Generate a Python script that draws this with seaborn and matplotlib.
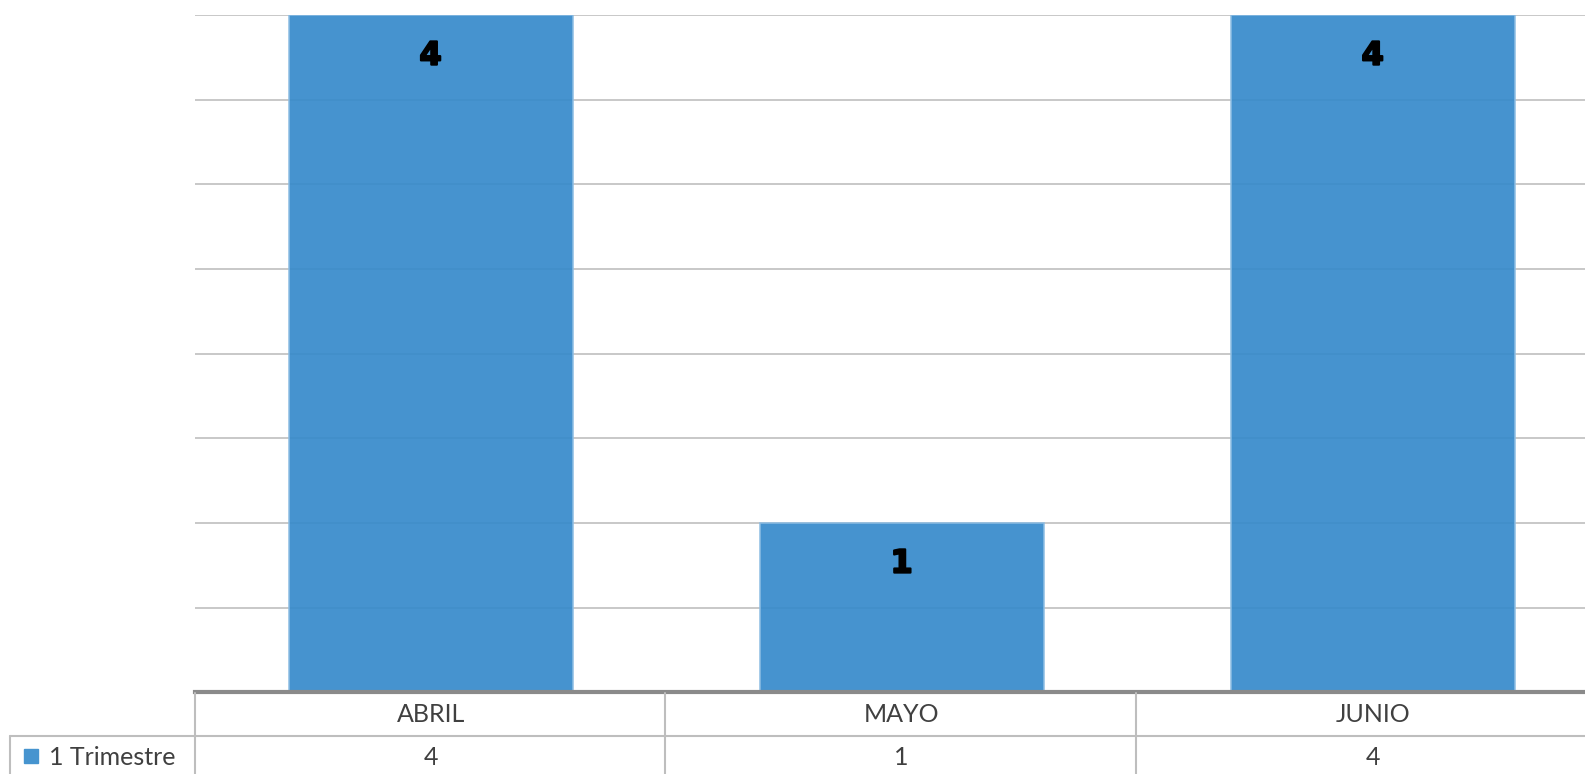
import matplotlib
matplotlib.use("Agg")
import matplotlib.pyplot as plt
import matplotlib.transforms as mtransforms
import matplotlib.patheffects as pe
from matplotlib.lines import Line2D
from matplotlib.patches import Rectangle
import seaborn as sns
import pandas as pd
import numpy as np

months = ["ABRIL", "MAYO", "JUNIO"]
values = [4, 1, 4]
series_name = "1 Trimestre"

sns.set_theme(style="white")
plt.rcParams['font.family'] = ['Lato', 'DejaVu Sans']

W, H = 1585, 774
# layout measured on a 1568-wide view of the reference
SW, SH = 1568.0, 774 * 1568.0 / 1585
fig = plt.figure(figsize=(W / 100, H / 100), dpi=100)
fig.patch.set_facecolor("white")

def fx(px):
    return px / SW

def fy(py):
    return 1 - py / SH

ax = fig.add_axes([fx(193), fy(685), fx(193 + 3 * 466) - fx(193), (685 - 15) / SH])
df = pd.DataFrame({"mes": months, "valor": values})
bar_color = "#368ACB"
sns.barplot(data=df, x="mes", y="valor", ax=ax, color=bar_color, width=0.603,
            saturation=1, alpha=0.92, edgecolor="#8DBDE3", linewidth=1.2, zorder=2)
ax.set_xlim(-0.5, 2.5)
ax.set_ylim(0, 4)
ax.set_yticks(np.arange(0, 4.01, 0.5))
ax.set_yticklabels([])
ax.set_xticks([])
ax.set_xlabel("")
ax.set_ylabel("")
ax.tick_params(left=False, bottom=False)
for y in np.arange(0.5, 4.01, 0.5):
    ax.axhline(y, color="#BFBFBF", linewidth=1.2, zorder=1)
for s in ["top", "right", "left"]:
    ax.spines[s].set_visible(False)
ax.spines["bottom"].set_color("#8A8A8A")
ax.spines["bottom"].set_linewidth(3)
ax.spines["bottom"].set_zorder(4)

for i, v in enumerate(values):
    ax.annotate(str(v), (i, v), xytext=(0, -27), textcoords="offset points",
                ha="center", va="center_baseline", fontsize=23, fontweight="heavy",
                color="black", family=["DejaVu Sans"], zorder=5,
                path_effects=[pe.withStroke(linewidth=1.5, foreground="black")])

# data table below the chart
trans = mtransforms.blended_transform_factory(ax.transData, fig.transFigure)
line_c = "#BEBEBE"
def hline(x0, x1, y, lw=1.5, c=line_c):
    fig.add_artist(Line2D([fx(x0), fx(x1)], [fy(y), fy(y)], color=c, lw=lw))
def vline(x, y0, y1, lw=1.5, c=line_c):
    fig.add_artist(Line2D([fx(x), fx(x)], [fy(y0), fy(y1)], color=c, lw=lw))

hline(10, 1600, 728)
vline(10, 728, 780)
for xp in [193, 658, 1124]:
    vline(xp, 686, 780)

txt_c = "#404040"
for i, (m, v) in enumerate(zip(months, values)):
    ax.text(i, fy(707), m, transform=trans, ha="center", va="center",
            fontsize=18, color=txt_c)
    ax.text(i, fy(749), str(v), transform=trans, ha="center", va="center",
            fontsize=18, color=txt_c)

fig.add_artist(Rectangle((fx(24), fy(755)), fx(14), 14 / SH, color="#4694CF"))
fig.text(fx(48), fy(749), series_name, ha="left", va="center", fontsize=18,
         color=txt_c)

fig.savefig("out.png", dpi=100)
